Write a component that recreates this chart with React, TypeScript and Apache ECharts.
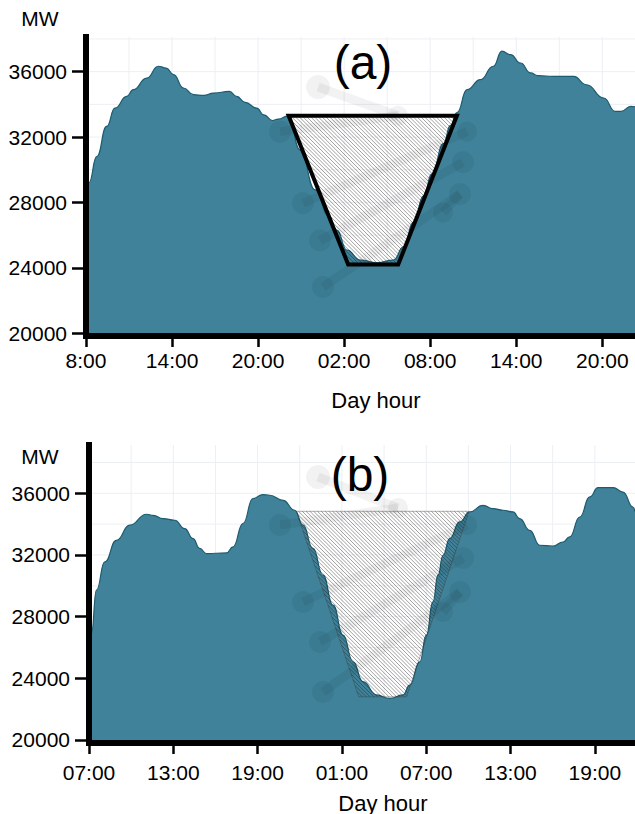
import React, { useEffect, useRef } from "react";
import * as echarts from "echarts";

// ---- Data: panel (a) ----
const hoursA = [0, 0.2, 0.75, 1.44, 2.02, 2.84, 3.3, 4.23, 5.04, 5.6, 6.1, 6.8, 7.5, 8.2, 8.9, 10.0, 10.5, 11.1, 11.9, 12.4, 13.0, 13.4, 14.1, 14.93, 15.98, 16.89, 17.49, 18.19, 19.12, 20.29, 21.44, 22.14, 22.84, 23.54, 24.12, 24.93, 25.4, 25.87, 26.57, 27.5, 28.4, 29.0, 29.6, 30.3, 31.0, 31.5, 32.6, 34.0, 34.9, 36.1, 36.9, 37.3, 38.0, 38.3];
const mwA = [29000, 29200, 30800, 32650, 33770, 34490, 34900, 35610, 36330, 36220, 35820, 35000, 34590, 34550, 34690, 34790, 34490, 34120, 33770, 33360, 33010, 33100, 33300, 31220, 28770, 27230, 26310, 25090, 24480, 24310, 24480, 25290, 26800, 28400, 29750, 31600, 32700, 33500, 34900, 35510, 36330, 37250, 37040, 36530, 35920, 35760, 35710, 35710, 35200, 34390, 33570, 33570, 33880, 33850];
const trapHoursA = [14.13, 18.28, 21.77, 25.86];
const trapMwA = [33300, 24200, 24200, 33300];
const xLabelsA = ["8:00", "14:00", "20:00", "02:00", "08:00", "14:00", "20:00"];

// ---- Data: panel (b) ----
const hoursB = [0, 0.17, 0.53, 1.12, 1.95, 2.9, 4.09, 4.56, 5.27, 6.1, 6.81, 7.4, 7.88, 8.36, 9.78, 10.25, 10.96, 11.67, 12.38, 12.86, 13.81, 14.64, 15.23, 15.94, 16.65, 17.37, 18.08, 18.79, 19.5, 20.46, 21.4, 22.35, 22.83, 23.54, 24.01, 24.48, 24.84, 25.2, 25.67, 26.38, 27.1, 28.04, 28.75, 29.47, 30.18, 30.65, 31.37, 32.08, 33.02, 33.74, 34.21, 34.93, 35.64, 36.23, 37.3, 38.0, 38.72, 38.86];
const mwB = [26300, 26910, 29720, 31550, 32950, 33930, 34640, 34570, 34360, 34250, 33710, 33060, 32420, 32090, 32130, 32520, 34040, 35660, 35910, 35870, 35545, 34900, 33930, 32420, 30690, 28740, 26800, 25070, 23780, 22920, 22700, 22920, 23560, 25070, 26800, 28960, 30690, 31980, 33060, 34140, 34790, 35220, 35010, 34900, 34790, 34360, 33600, 32630, 32570, 32840, 33170, 34460, 35760, 36370, 36370, 36080, 35110, 34800];
const trapHoursB = [14.76, 19.2, 22.6, 27.05];
const trapMwB = [34830, 22800, 22800, 34830];
const xLabelsB = ["07:00", "13:00", "19:00", "01:00", "07:00", "13:00", "19:00"];

// ---- Shared ticks ----
const xTicks = [0, 6, 12, 18, 24, 30, 36];
const yTicks = [20000, 24000, 28000, 32000, 36000];
const xGridHours = [0, 3, 6, 9, 12, 15, 18, 21, 24, 27, 30, 33, 36];
const yGridMw = [20000, 22000, 24000, 26000, 28000, 30000, 32000, 34000, 36000, 38000];

// watermark logo (relative offsets)
const logoCircles = [[0, 0, 12], [80, 31, 10], [-38, 48, 11], [-15, 125, 11], [2, 165, 11], [5, 215, 11], [149, 48, 10], [145, 81, 11], [142, 115, 11], [125, 135, 10]];
const logoLinks = [[0, 1], [2, 1], [3, 6], [4, 7], [5, 8], [8, 9]];

const FONT = "'Liberation Sans', Arial, Helvetica, sans-serif";
const TEAL = "#3f8299";
const TEAL_LINE = "#1d5b70";
const GRID_COLOR = "#eceff3";
const WM = "rgba(0,0,0,0.05)";

function hatchLines(pts: number[][], step: number, color: string, width: number) {
  const cs = pts.map((p) => p[1] - p[0]);
  const cmin = Math.min(...cs);
  const cmax = Math.max(...cs);
  const out: any[] = [];
  for (let c = Math.ceil(cmin / step) * step; c <= cmax; c += step) {
    const hits: number[][] = [];
    for (let i = 0; i < pts.length; i++) {
      const p = pts[i];
      const q = pts[(i + 1) % pts.length];
      const fp = p[1] - p[0] - c;
      const fq = q[1] - q[0] - c;
      if ((fp <= 0 && fq > 0) || (fp > 0 && fq <= 0)) {
        const t = fp / (fp - fq);
        hits.push([p[0] + t * (q[0] - p[0]), p[1] + t * (q[1] - p[1])]);
      }
    }
    if (hits.length >= 2) {
      out.push({
        type: "line",
        silent: true,
        shape: { x1: hits[0][0], y1: hits[0][1], x2: hits[1][0], y2: hits[1][1] },
        style: { stroke: color, lineWidth: width },
      });
    }
  }
  return out;
}

function gridSeries(idx: number) {
  return {
    type: "custom",
    xAxisIndex: idx,
    yAxisIndex: idx,
    silent: true,
    z: 1,
    data: [[0, 20000]],
    renderItem: (params: any, api: any) => {
      const cs = params.coordSys;
      const children: any[] = [];
      yGridMw.forEach((v) => {
        const p = api.coord([0, v]);
        children.push({ type: "line", shape: { x1: cs.x, y1: p[1], x2: cs.x + cs.width, y2: p[1] }, style: { stroke: GRID_COLOR, lineWidth: 1 } });
      });
      xGridHours.forEach((h) => {
        const p = api.coord([h, 20000]);
        children.push({ type: "line", shape: { x1: p[0], y1: cs.y, x2: p[0], y2: cs.y + cs.height }, style: { stroke: GRID_COLOR, lineWidth: 1 } });
      });
      return { type: "group", children };
    },
  };
}

function trapSeries(idx: number, hours: number[], mws: number[], outlineColor: string, outlineWidth: number) {
  return {
    type: "custom",
    xAxisIndex: idx,
    yAxisIndex: idx,
    silent: true,
    z: 3,
    data: [[hours[0], mws[0]]],
    renderItem: (params: any, api: any) => {
      const pts = hours.map((h, i) => api.coord([h, mws[i]]));
      const children = hatchLines(pts, 3.8, "rgba(30,30,30,0.6)", 0.7);
      children.push({
        type: "polygon",
        shape: { points: pts },
        style: { fill: "none", stroke: outlineColor, lineWidth: outlineWidth, lineJoin: "miter" },
      });
      return { type: "group", children };
    },
  };
}

function areaSeries(idx: number, hours: number[], mws: number[]) {
  return {
    type: "line",
    xAxisIndex: idx,
    yAxisIndex: idx,
    z: 2,
    data: hours.map((h, i) => [h, mws[i]]),
    smooth: 0.5,
    smoothMonotone: "x",
    showSymbol: false,
    symbol: "none",
    silent: true,
    lineStyle: { color: TEAL_LINE, width: 1.2 },
    areaStyle: { color: TEAL, opacity: 1, origin: "start" },
  };
}

function logoGraphics(ox: number, oy: number, sy: number) {
  const els: any[] = [];
  const pos = logoCircles.map((c) => [ox + c[0], oy + c[1] * sy]);
  logoLinks.forEach(([a, b]) => {
    els.push({
      type: "line",
      z: 20,
      silent: true,
      shape: { x1: pos[a][0], y1: pos[a][1], x2: pos[b][0], y2: pos[b][1] },
      style: { stroke: WM, lineWidth: 9, lineCap: "butt" },
    });
  });
  logoCircles.forEach((c, i) => {
    els.push({
      type: "circle",
      z: 20,
      silent: true,
      shape: { cx: pos[i][0], cy: pos[i][1], r: c[2] },
      style: { fill: WM },
    });
  });
  return els;
}

function text(t: string, x: number, y: number, size: number) {
  return {
    type: "text",
    z: 30,
    x,
    y,
    silent: true,
    style: { text: t, fontSize: size, fontFamily: FONT, fill: "#000", align: "center", verticalAlign: "middle" },
  };
}

function xAxisCfg(idx: number, max: number, labels: string[], margin: number) {
  return {
    type: "value",
    gridIndex: idx,
    min: 0,
    max,
    interval: 6,
    z: 10,
    axisLine: { show: true, onZero: false, lineStyle: { color: "#000", width: 6 } },
    axisTick: { show: true, length: 11, customValues: xTicks, lineStyle: { color: "#000", width: 2.5 } },
    axisLabel: {
      customValues: xTicks,
      margin,
      fontSize: 21,
      fontFamily: FONT,
      color: "#000",
      formatter: (v: number) => labels[xTicks.indexOf(v)] ?? "",
    },
    splitLine: { show: false },
  };
}

function yAxisCfg(idx: number, min: number, max: number) {
  return {
    type: "value",
    gridIndex: idx,
    min,
    max,
    z: 10,
    axisLine: { show: true, onZero: false, lineStyle: { color: "#000", width: 6, cap: "square" } },
    axisTick: { show: true, length: 14, customValues: yTicks, lineStyle: { color: "#000", width: 2.5 } },
    axisLabel: {
      customValues: yTicks,
      margin: 19,
      fontSize: 21,
      fontFamily: FONT,
      color: "#000",
      formatter: (v: number) => String(v),
    },
    splitLine: { show: false },
  };
}

export default function App() {
  const ref = useRef<HTMLDivElement>(null);
  useEffect(() => {
    if (!ref.current) return;
    const chart = echarts.init(ref.current, undefined, { renderer: "svg" });
    chart.setOption({
      animation: false,
      backgroundColor: "#ffffff",
      grid: [
        { left: 86, top: 37, width: 549, height: 299 },
        { left: 89, top: 445, width: 546, height: 298 },
      ],
      xAxis: [xAxisCfg(0, 38.28, xLabelsA, 14), xAxisCfg(1, 38.86, xLabelsB, 19)],
      yAxis: [yAxisCfg(0, 19830, 38120), yAxisCfg(1, 19805, 39130)],
      series: [
        gridSeries(0),
        gridSeries(1),
        areaSeries(0, hoursA, mwA),
        areaSeries(1, hoursB, mwB),
        trapSeries(0, trapHoursA, trapMwA, "#000", 4),
        trapSeries(1, trapHoursB, trapMwB, "rgba(60,60,60,0.6)", 0.7),
      ],
      graphic: [
        ...logoGraphics(318, 87, 0.93),
        ...logoGraphics(318, 477, 1),
        text("MW", 40, 18, 21),
        text("MW", 40, 456, 21),
        text("(a)", 363, 62, 48),
        text("(b)", 360, 474, 48),
        text("Day hour", 376, 400, 22),
        text("Day hour", 383, 803, 22),
      ],
    });
    return () => chart.dispose();
  }, []);
  return (
    <div
      ref={ref}
      style={{ position: "fixed", left: 0, top: 0, width: 635, height: 814, background: "#fff" }}
    />
  );
}
